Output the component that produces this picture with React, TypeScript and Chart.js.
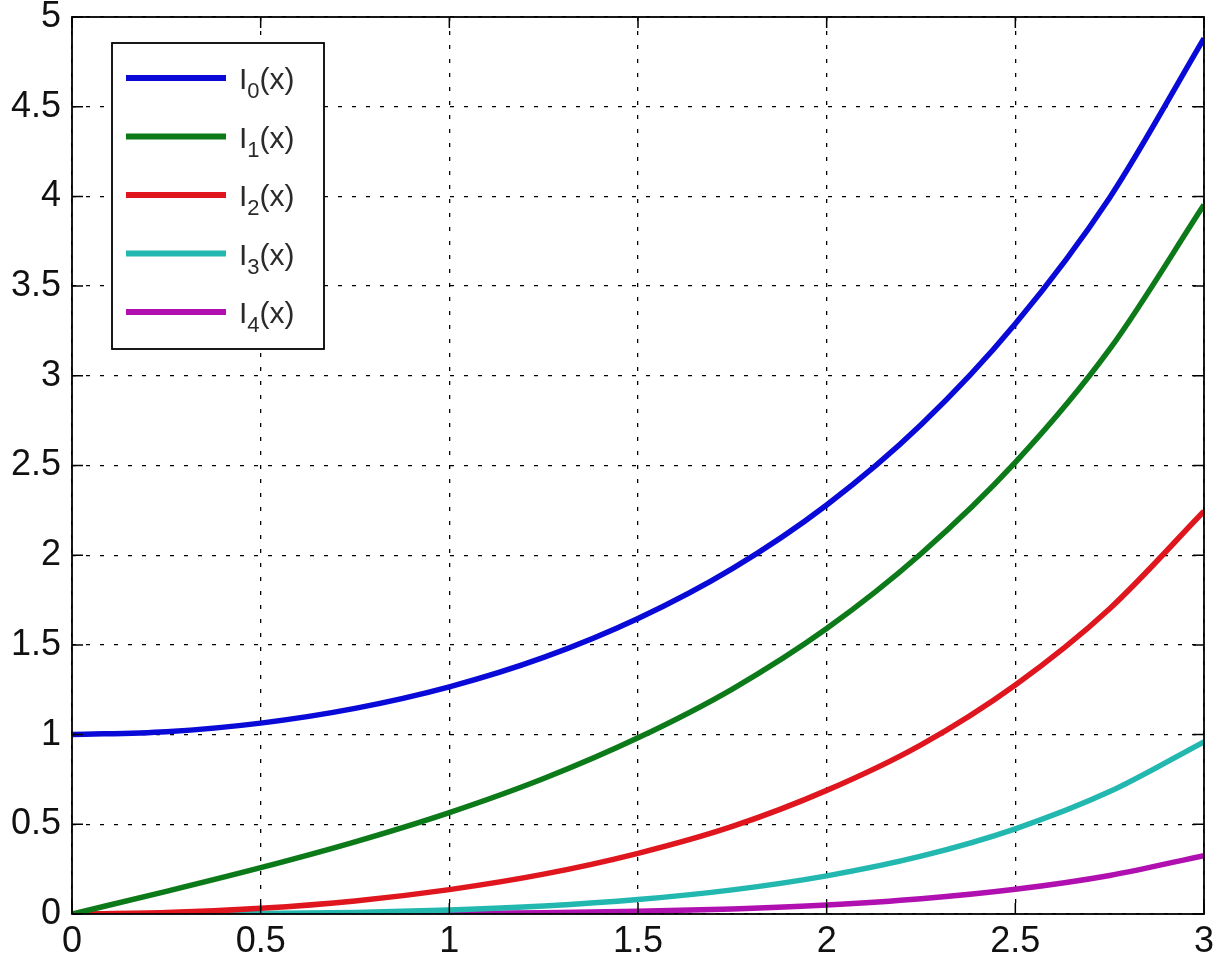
import React, { useEffect, useRef } from "react";
import { Chart, registerables } from "chart.js";

Chart.register(...registerables);

const xValues = [0, 0.25, 0.5, 0.75, 1, 1.25, 1.5, 1.75, 2, 2.25, 2.5, 2.75, 3];
const i0 = [1.0, 1.016, 1.064, 1.146, 1.266, 1.43, 1.647, 1.925, 2.28, 2.727, 3.29, 3.993, 4.881];
const i1 = [0, 0.126, 0.258, 0.402, 0.565, 0.755, 0.982, 1.254, 1.591, 2.008, 2.517, 3.148, 3.953];
const i2 = [0, 0.008, 0.032, 0.073, 0.136, 0.222, 0.338, 0.488, 0.689, 0.943, 1.277, 1.702, 2.245];
const i3 = [0, 0.0003, 0.0026, 0.0088, 0.0222, 0.0449, 0.0807, 0.1344, 0.2127, 0.3223, 0.4749, 0.6822, 0.9598];
const i4 = [0, 0, 0.0002, 0.0009, 0.0027, 0.0069, 0.0147, 0.0284, 0.0507, 0.0855, 0.138, 0.215, 0.3257];

const seriesNames = ["0", "1", "2", "3", "4"];
const seriesValues = [i0, i1, i2, i3, i4];
const seriesColors = ["#0a0ad8", "#0d7a1a", "#e0161e", "#22b8b0", "#b010b0"];

const FONT = "'Liberation Sans', Arial, Helvetica, sans-serif";

const framePlugin = {
  id: "frameAndLegend",
  afterDraw(chart: any) {
    const ctx = chart.ctx;
    const { left, right, top, bottom } = chart.chartArea;
    const xs = chart.scales.x;
    const ys = chart.scales.y;
    ctx.save();
    ctx.setLineDash([]);
    // inward tick marks
    ctx.strokeStyle = "#000";
    ctx.lineWidth = 1.5;
    const tl = 11;
    ctx.beginPath();
    xs.ticks.forEach((t: any) => {
      const px = xs.getPixelForValue(t.value);
      ctx.moveTo(px, bottom);
      ctx.lineTo(px, bottom - tl);
      ctx.moveTo(px, top);
      ctx.lineTo(px, top + tl);
    });
    ys.ticks.forEach((t: any) => {
      const py = ys.getPixelForValue(t.value);
      ctx.moveTo(left, py);
      ctx.lineTo(left + tl, py);
      ctx.moveTo(right, py);
      ctx.lineTo(right - tl, py);
    });
    ctx.stroke();
    // frame
    ctx.lineWidth = 1.8;
    ctx.strokeRect(left, top, right - left, bottom - top);

    // legend
    const bx = left + 40;
    const by = top + 26;
    const bw = 212;
    const bh = 306;
    ctx.fillStyle = "#fff";
    ctx.fillRect(bx, by, bw, bh);
    ctx.lineWidth = 1.8;
    ctx.strokeStyle = "#000";
    ctx.strokeRect(bx, by, bw, bh);
    chart.data.datasets.forEach((ds: any, i: number) => {
      const cy = by + 35 + i * 58.5;
      ctx.strokeStyle = ds.borderColor;
      ctx.lineWidth = 6;
      ctx.beginPath();
      ctx.moveTo(bx + 14, cy);
      ctx.lineTo(bx + 114, cy);
      ctx.stroke();
      ctx.fillStyle = "#2a2a2a";
      ctx.textBaseline = "alphabetic";
      ctx.textAlign = "left";
      ctx.font = `30px ${FONT}`;
      let tx = bx + 127;
      const base = cy + 11;
      ctx.fillText("I", tx, base);
      tx += ctx.measureText("I").width;
      ctx.font = `22px ${FONT}`;
      ctx.fillText(ds.sub, tx, base + 9);
      tx += ctx.measureText(ds.sub).width;
      ctx.font = `30px ${FONT}`;
      ctx.fillText("(x)", tx, base);
    });
    ctx.restore();
  },
};

const fmt = (v: any) => String(Math.round(Number(v) * 10) / 10);

export default function App() {
  const ref = useRef<HTMLCanvasElement | null>(null);
  useEffect(() => {
    document.body.style.margin = "0";
    const canvas = ref.current;
    if (!canvas) return;
    const chart = new Chart(canvas, {
      type: "line",
      data: {
        datasets: seriesValues.map((vals, i) => ({
          label: `I${seriesNames[i]}(x)`,
          sub: seriesNames[i],
          data: xValues.map((x, j) => ({ x, y: vals[j] })),
          borderColor: seriesColors[i],
          backgroundColor: seriesColors[i],
          borderWidth: 5.5,
          pointRadius: 0,
          fill: false,
          cubicInterpolationMode: "monotone",
        })) as any,
      },
      options: {
        animation: false,
        responsive: false,
        maintainAspectRatio: false,
        layout: { padding: { top: 17, right: 18, left: 0, bottom: 0 } },
        plugins: { legend: { display: false }, tooltip: { enabled: false } },
        scales: {
          x: {
            type: "linear",
            min: 0,
            max: 3,
            border: { display: false, dash: [4, 10] },
            grid: {
              color: "#000",
              lineWidth: 1.3,
              drawTicks: false,
            },
            ticks: {
              stepSize: 0.5,
              color: "#111",
              padding: 6,
              font: { family: FONT, size: 36 },
              maxRotation: 0,
              callback: (v: any) => fmt(v),
            },
            afterFit(scale: any) {
              scale.height = 42;
              scale.paddingLeft = 0;
              scale.paddingRight = 0;
            },
          },
          y: {
            type: "linear",
            min: 0,
            max: 5,
            border: { display: false, dash: [4, 10] },
            grid: {
              color: "#000",
              lineWidth: 1.3,
              drawTicks: false,
            },
            ticks: {
              stepSize: 0.5,
              color: "#111",
              padding: 11,
              font: { family: FONT, size: 36 },
              callback: (v: any) => fmt(v),
            },
            afterFit(scale: any) {
              scale.width = 72;
              scale.paddingTop = 0;
              scale.paddingBottom = 0;
            },
          },
        },
      } as any,
      plugins: [framePlugin],
    });
    return () => chart.destroy();
  }, []);
  return (
    <div style={{ position: "fixed", left: 0, top: 0, width: 1222, height: 956, background: "#fff" }}>
      <canvas ref={ref} width={1222} height={956} style={{ width: 1222, height: 956 }} />
    </div>
  );
}
